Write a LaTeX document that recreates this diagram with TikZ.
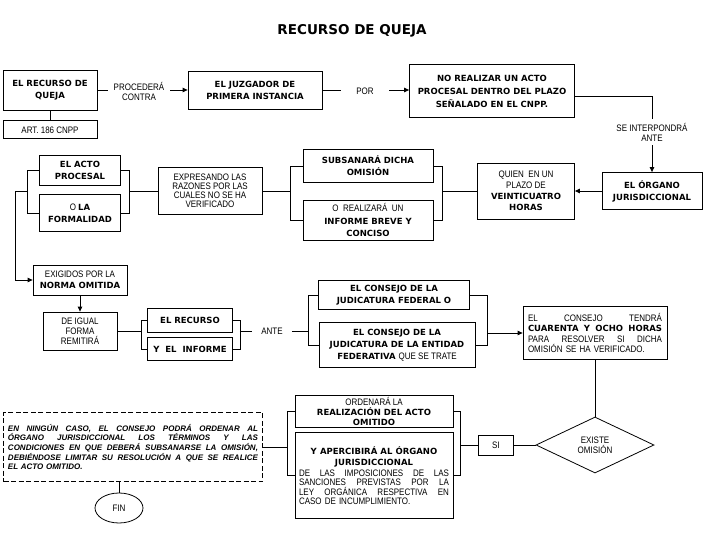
\documentclass[tikz,border=0pt]{standalone}
\usepackage{fontspec}
\setmainfont{Liberation Sans}[FakeStretch=0.85]
\newfontface\hv{DejaVu Sans Bold}
\newfontface\nt{Liberation Sans Bold Italic}
\usepackage{tikz}
\usetikzlibrary{positioning,arrows.meta,calc,shapes.geometric}
\newcommand{\bld}[1]{{\hv\fontsize{8.5}{10}\selectfont #1}}
\newcommand{\spread}[2]{{\spaceskip=0.25em plus 1fil\relax\makebox[#1][s]{#2}}}

\begin{document}
\begin{tikzpicture}[
  x=1pt, y=-1pt,
  font=\fontsize{9.4}{10}\selectfont,
  >={Triangle[length=5pt,width=4.5pt]},
  node distance=10pt,
  box/.style={draw, line width=0.8pt, inner sep=1pt, align=center},
  bbox/.style={box, font=\hv\fontsize{8.5}{12}\selectfont},
  lbl/.style={inner sep=1pt, align=center},
  ln/.style={line width=0.8pt},
  arr/.style={->, line width=0.8pt},
]
\useasboundingbox (0,0) rectangle (720,540);

% Title
\node[font=\hv\fontsize{13.5}{16}\selectfont] (title) at (352,31) {RECURSO DE QUEJA};

% Top row
\node[bbox, minimum width=94pt, minimum height=40pt] (queja) at (50,90) {EL RECURSO DE\\QUEJA};
\node[box, minimum width=94pt, minimum height=18pt, below=10pt of queja] (art) {ART. 186 CNPP};
\node[lbl, minimum width=62pt] (proc) at (139,91) {PROCEDERÁ\\CONTRA};
\node[bbox, minimum width=134pt, minimum height=38pt] (juzg) at (255,90) {EL JUZGADOR DE\\PRIMERA INSTANCIA};
\node[lbl, minimum width=48pt] (por) at (365,91) {POR};
\node[bbox, minimum width=165pt, minimum height=53pt, font=\hv\fontsize{8.5}{13}\selectfont] (noreal) at (492,91) {NO REALIZAR UN ACTO\\PROCESAL DENTRO DEL PLAZO\\SEÑALADO EN EL CNPP.};
\node[lbl, inner ysep=4pt] (interp) at (652,132) {SE INTERPONDRÁ\\ANTE};

% Second row
\node[bbox, minimum width=100pt, minimum height=37pt] (organo) at (652,191) {EL ÓRGANO\\JURISDICCIONAL};
\node[box, minimum width=97pt, minimum height=56pt, font=\fontsize{9.4}{11}\selectfont] (quien) at (526,191) {QUIEN\ \ EN UN\\PLAZO DE\\\bld{VEINTICUATRO}\\\bld{HORAS}};
\node[bbox, minimum width=130pt, minimum height=33pt] (subs) at (368,166) {SUBSANARÁ DICHA\\OMISIÓN};
\node[box, minimum width=130pt, minimum height=40pt, font=\fontsize{9.4}{12.5}\selectfont] (infor) at (368,220) {O\ \ REALIZARÁ\ \ UN\\\bld{INFORME BREVE Y}\\\bld{CONCISO}};
\node[box, minimum width=104pt, minimum height=47pt, font=\fontsize{9.4}{9}\selectfont] (expr) at (210,191) {EXPRESANDO LAS\\RAZONES POR LAS\\CUALES NO SE HA\\VERIFICADO};
\node[bbox, minimum width=81pt, minimum height=30pt] (acto) at (80,170) {EL ACTO\\PROCESAL};
\node[box, minimum width=81pt, minimum height=37pt, font=\fontsize{9.4}{12}\selectfont] (formal) at (80,213) {O \bld{LA}\\\bld{FORMALIDAD}};

% Left column and middle row
\node[box, minimum width=94pt, minimum height=30pt, font=\fontsize{9.4}{11}\selectfont] (exige) at (80,280) {EXIGIDOS POR LA\\\bld{NORMA OMITIDA}};
\node[box, minimum width=74pt, minimum height=38pt] (igual) at (80,331) {DE IGUAL\\FORMA\\REMITIRÁ};
\node[bbox, minimum width=85pt, minimum height=24pt] (recur) at (190,320) {EL RECURSO};
\node[bbox, minimum width=85pt, minimum height=23pt, below=5pt of recur] (yinf) {Y\ \ EL\ \ INFORME};
\node[lbl, inner xsep=9pt] (ante) at (272,331) {ANTE};
\node[bbox, minimum width=151pt, minimum height=29pt] (cjf) at (394,295) {EL CONSEJO DE LA\\JUDICATURA FEDERAL O};
\node[bbox, minimum width=156pt, minimum height=45pt] (cje) at (397,345) {EL CONSEJO DE LA\\JUDICATURA DE LA ENTIDAD\\FEDERATIVA {\rmfamily\fontsize{9.4}{10}\selectfont QUE SE TRATE}};
\node[box, minimum width=144pt, minimum height=53pt, text width=134pt, align=left, font=\fontsize{9.4}{10.5}\selectfont] (tend) at (595,333) {\spread{134pt}{EL CONSEJO TENDRÁ}\\\spread{134pt}{\bld{CUARENTA Y OCHO HORAS}}\\\spread{134pt}{PARA RESOLVER SI DICHA}\\OMISIÓN SE HA VERIFICADO.};

% Bottom row
\node[diamond, draw, line width=0.8pt, minimum width=118pt, minimum height=56pt, inner sep=0pt, align=center] (exis) at (595,445) {EXISTE\\OMISIÓN};
\node[box, minimum width=35pt, minimum height=20pt] (si) at (496,445) {SI};
\node[box, minimum width=158pt, minimum height=32pt, font=\fontsize{9.4}{10}\selectfont] (orden) at (374,411) {ORDENARÁ LA\\\bld{REALIZACIÓN DEL ACTO}\\\bld{OMITIDO}};
\node[box, minimum width=158pt, minimum height=86pt, text width=150pt, font=\fontsize{9.4}{9.5}\selectfont, below=5pt of orden] (aperc) {\bld{Y APERCIBIRÁ AL ÓRGANO}\\[2pt]\bld{JURISDICCIONAL}\\[1pt]\spread{150pt}{DE LAS IMPOSICIONES DE LAS}\\\spread{150pt}{SANCIONES PREVISTAS POR LA}\\\spread{150pt}{LEY ORGÁNICA RESPECTIVA EN}\\\makebox[150pt][l]{CASO DE INCUMPLIMIENTO.}};
\node[draw, dashed, dash pattern=on 5pt off 2.5pt, line width=0.8pt, minimum width=259pt, minimum height=69pt, text width=250pt, align=left, inner sep=1pt, font=\nt\fontsize{8}{9.7}\selectfont] (nota) at (133,447) {\spread{250pt}{EN NINGÚN CASO, EL CONSEJO PODRÁ ORDENAR AL}\\\spread{250pt}{ÓRGANO JURISDICCIONAL LOS TÉRMINOS Y LAS}\\\spread{250pt}{CONDICIONES EN QUE DEBERÁ SUBSANARSE LA OMISIÓN,}\\\spread{250pt}{DEBIÉNDOSE LIMITAR SU RESOLUCIÓN A QUE SE REALICE}\\EL ACTO OMITIDO.};
\node[ellipse, draw, line width=0.8pt, minimum width=48pt, minimum height=30pt, inner sep=0pt] (fin) at (119,508) {FIN};

% Bracket points
\coordinate (sbr) at ($(subs.east)+(9,0)$);
\coordinate (sbl) at ($(subs.west)+(-12,0)$);
\coordinate (abr) at ($(acto.east)+(8,0)$);
\coordinate (abl) at ($(acto.west)+(-12,0)$);
\coordinate (amid) at ($(acto.west)!0.5!(formal.west)+(-12,0)$);
\coordinate (rbl) at ($(recur.west)+(-6,0)$);
\coordinate (rbr) at ($(recur.east)+(7,0)$);
\coordinate (cbl) at ($(cje.west)+(-10,0)$);
\coordinate (cbr) at ($(cje.east)+(12,0)$);
\coordinate (obr) at ($(orden.east)+(7,0)$);
\coordinate (obl) at ($(orden.west)+(-7,0)$);

% Edges
\draw[ln] (queja) -- (art);
\draw[ln] (queja.east) -- (queja.east -| proc.west);
\draw[arr] (proc.east |- juzg.west) -- (juzg.west);
\draw[ln] (juzg.east) -- (juzg.east -| por.west);
\draw[arr] (por.east |- juzg.east) -- (por.east |- juzg.east -| noreal.west);
\draw[ln] ([yshift=-5pt]noreal.east) -| (interp.north);
\draw[arr] (interp.south) -- (organo.north);
\draw[arr] (organo.west) -- (organo.west -| quien.east);

\draw[ln] (subs.east) -- (subs.east -| sbr) -- (infor.east -| sbr) -- (infor.east);
\draw[ln] (quien.west) -- (quien.west -| sbr);
\draw[ln] (subs.west) -- (subs.west -| sbl) -- (infor.west -| sbl) -- (infor.west);
\draw[ln] (expr.east) -- (expr.east -| sbl);

\draw[ln] (acto.east) -- (acto.east -| abr) -- (formal.east -| abr) -- (formal.east);
\draw[ln] (expr.west) -- (expr.west -| abr);
\draw[ln] (acto.west) -- (acto.west -| abl) -- (formal.west -| abl) -- (formal.west);
\draw[arr] (amid) -- ++(-12,0) |- (exige.west);
\draw[arr] (exige) -- (igual);

\draw[ln] (recur.west) -- (recur.west -| rbl) -- (yinf.west -| rbl) -- (yinf.west);
\draw[ln] (igual.east) -- (igual.east -| rbl);
\draw[ln] (recur.east) -- (recur.east -| rbr) -- (yinf.east -| rbr) -- (yinf.east);
\draw[ln] (ante.west -| rbr) -- (ante.west);
\draw[ln] (cjf.west) -- (cjf.west -| cbl) -- (cje.west -| cbl) -- (cje.west);
\draw[ln] (ante.east) -- (ante.east -| cbl);
\draw[ln] (cjf.east) -- (cjf.east -| cbr) -- (cje.east -| cbr) -- (cje.east);
\draw[arr] (tend.west -| cbr) -- (tend.west);

\draw[ln] (tend.south) -- (exis.north);
\draw[ln] (exis.west) -- (si.east);
\draw[ln] (orden.east) -- (orden.east -| obr) -- (aperc.east -| obr) -- (aperc.east);
\draw[ln] (si.west) -- (si.west -| obr);
\draw[ln] (orden.west) -- (orden.west -| obl) -- (aperc.west -| obl) -- (aperc.west);
\draw[ln] (nota.east) -- (nota.east -| obl);
\draw[ln] (fin.north |- nota.south) -- (fin.north);

\end{tikzpicture}
\end{document}
